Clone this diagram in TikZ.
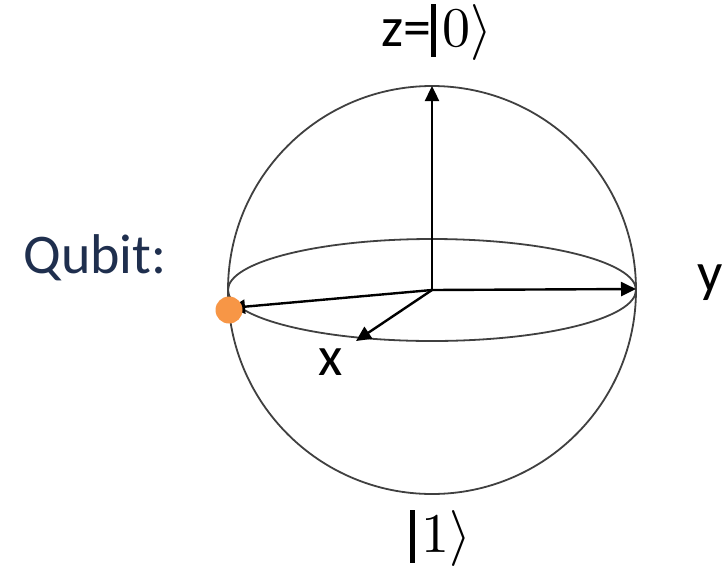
\documentclass[tikz,border=0pt]{standalone}
\usepackage{fontspec}
\usepackage{unicode-math}
\setmainfont{Carlito}
\setmathfont{Latin Modern Math}
\usetikzlibrary{arrows.meta,shapes.geometric}
\definecolor{navy}{HTML}{1F2F4E}
\definecolor{dotorange}{HTML}{F79646}
\definecolor{sphere}{HTML}{404040}
\tikzset{
  sphereline/.style={draw=sphere, line width=1.8pt},
  axis/.style={draw=black, line width=2.4pt, -{Triangle[length=15pt,width=14pt]}},
  lbl/.style={inner sep=0pt, font=\fontsize{56}{62}\selectfont},
}
\newcommand{\thickbar}{\rule[-0.2em]{0.09em}{0.95em}\hspace{0.12em}}
\begin{document}
\begin{tikzpicture}[x=1pt,y=-1pt]
\useasboundingbox (0,0) rectangle (725,568);
\coordinate (O) at (432,290);
\node[sphereline, circle, minimum size=408pt, inner sep=0pt] (S) at (O) {};
\node[sphereline, ellipse, minimum width=408pt, minimum height=102pt, inner sep=0pt] (E) at (O) {};
\coordinate (Z) at (432,86);
\coordinate (Y) at (636,289);
\coordinate (X) at (356,341);
\coordinate (Q) at (230,308);
\draw[axis] (O) -- (Z);
\draw[axis] (O) -- (Y);
\draw[axis] (O) -- (X);
\draw[axis] (O) -- (Q);
\node[fill=dotorange, circle, minimum size=27pt, inner sep=0pt] (dot) at (229,310) {};
\node[lbl] (zl) at (437,32) {z=\thickbar$0\rangle$};
\node[lbl] (one) at (441,538) {\thickbar$1\rangle$};
\node[lbl] (yl) at (710,283) {y};
\node[lbl] (xl) at (331,362) {x};
\node[lbl, text=navy, anchor=base] (qb) at (95,273) {Qubit:};
\end{tikzpicture}
\end{document}
